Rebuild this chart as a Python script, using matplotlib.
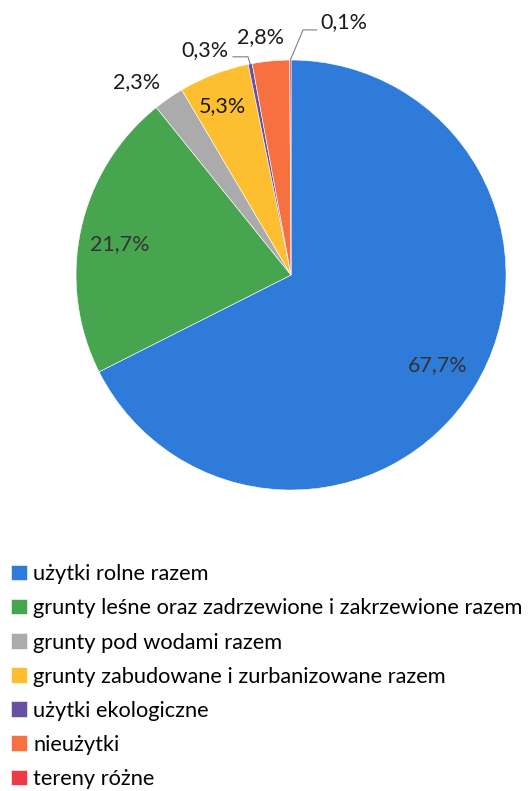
import numpy as np
from matplotlib import pyplot as plt

plt.rcParams['font.family'] = ['Lato', 'DejaVu Sans']

labels = ['użytki rolne razem',
          'grunty leśne oraz zadrzewione i zakrzewione razem',
          'grunty pod wodami razem',
          'grunty zabudowane i zurbanizowane razem',
          'użytki ekologiczne',
          'nieużytki',
          'tereny różne']
values = [67.7, 21.7, 2.3, 5.3, 0.3, 2.8, 0.1]
pct_text = ['67,7%', '21,7%', '2,3%', '5,3%', '0,3%', '2,8%', '0,1%']
colors = ['#2E7BDA', '#47A54F', '#ABABAB', '#FDBF2F', '#6A4FA3', '#F7703F', '#EE3B43']

fig = plt.figure(figsize=(5.28, 7.91), dpi=100)
ax = fig.add_axes([0.144, 0.3805, 0.8144, 0.5436])

wedges, _ = ax.pie(values, colors=colors, startangle=90, counterclock=False,
                   radius=1.0, wedgeprops=dict(linewidth=0.4, edgecolor='white'))

# label placement: (radial distance, angle offset in degrees, colour)
lab_style = [(0.80, 0, '#333333'), (0.81, 2, '#333333'), (1.15, 4, '#1a1a1a'),
             (0.85, 1, '#1a1a1a'), (1.12, 10, '#1a1a1a'), (1.115, 2, '#1a1a1a'),
             (1.20, -12, '#1a1a1a')]
for w, t, (r, off, c) in zip(wedges, pct_text, lab_style):
    ang = np.deg2rad((w.theta1 + w.theta2) / 2 + off)
    ax.text(r*np.cos(ang), r*np.sin(ang), t, ha='center', va='center',
            fontsize=15.5, color=c)

# leader lines for the tiny slices
w = wedges[6]
a = np.deg2rad((w.theta1 + w.theta2) / 2)
ax.plot([np.cos(a), 0.056, 0.12], [np.sin(a), 1.14, 1.14], color='#808080',
        lw=0.8, clip_on=False)
w = wedges[4]
a = np.deg2rad((w.theta1 + w.theta2) / 2)
ax.plot([np.cos(a), np.cos(a) - 0.01, -0.27], [np.sin(a), 1.015, 1.015],
        color='#808080', lw=0.8, clip_on=False)

ax.set_xlim(-1, 1)
ax.set_ylim(-1, 1)
ax.set_aspect('equal')

fig.legend(wedges, labels, loc='upper left', bbox_to_anchor=(0.005, 0.2975),
           frameon=False, fontsize=15.7, handlelength=0.7, handleheight=0.7,
           handletextpad=0.3, labelspacing=0.645, borderaxespad=0)

fig.savefig('out.png', dpi=100)
